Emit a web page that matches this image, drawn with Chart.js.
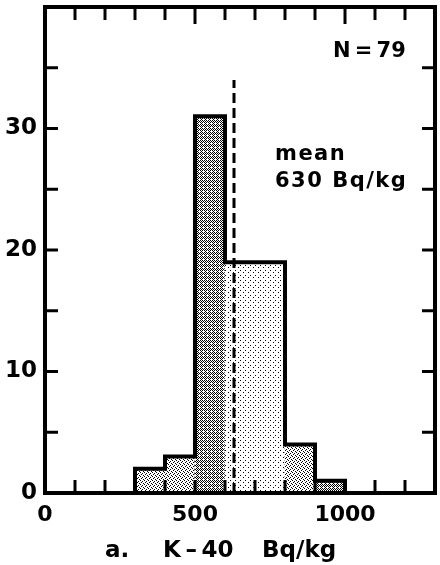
<!DOCTYPE html>
<html>
<head>
<meta charset="utf-8">
<script src="https://cdn.jsdelivr.net/npm/chart.js@4/dist/chart.umd.min.js"></script>
<style>
  html, body { margin: 0; padding: 0; background: #fff; }
  #wrap { width: 440px; height: 565px; }
</style>
</head>
<body>
<div id="wrap"><canvas id="histChart" width="440" height="565"></canvas></div>
<script>
// K-40 histogram (Bq/kg), N = 79
const binEdges = [300, 400, 500, 600, 700, 800, 900, 1000]
const binCounts = [2, 3, 31, 19, 19, 4, 1]
const binShade = ['medium', 'medium', 'dense', 'light', 'light', 'medium', 'dense']
const meanValue = 630
const meanLineTop = 34
const xLabelTicks = [0, 500, 1000]
const yLabelTicks = [0, 10, 20, 30]
const sampleCount = 79

const FONT = 'DejaVu Sans'

const canvas = document.getElementById('histChart')
const ctx = canvas.getContext('2d')

// stipple patterns, roughly like the halftone screens of the print
function makePattern(size, dots) {
  const tile = document.createElement('canvas')
  tile.width = size
  tile.height = size
  const t = tile.getContext('2d')
  t.fillStyle = '#fff'
  t.fillRect(0, 0, size, size)
  t.fillStyle = '#000'
  dots.forEach(([x, y]) => t.fillRect(x, y, 1, 1))
  return ctx.createPattern(tile, 'repeat')
}

const patterns = {
  dense: makePattern(4, [[0, 0], [2, 0], [1, 1], [3, 1], [0, 2], [2, 2], [1, 3]]),
  medium: makePattern(4, [[0, 0], [2, 1], [1, 2], [3, 3]]),
  light: makePattern(5, [[0, 0], [3, 2]]),
}

const barData = binCounts.map((c, i) => ({ x: (binEdges[i] + binEdges[i + 1]) / 2, y: c }))
const outlineData = [{ x: binEdges[0], y: 0 }]
  .concat(binCounts.map((c, i) => ({ x: binEdges[i], y: c })))
  .concat([{ x: binEdges[binEdges.length - 1], y: 0 }])

const framePlugin = {
  id: 'frame',
  afterDatasetsDraw(chart) {
    const c = chart.ctx
    const area = chart.chartArea
    const xs = chart.scales.x
    const ys = chart.scales.y
    c.save()
    c.strokeStyle = '#000'
    c.lineCap = 'butt'

    // inward tick marks
    c.lineWidth = 3
    c.beginPath()
    for (let v = 100; v < 1300; v += 100) {
      const px = xs.getPixelForValue(v)
      const len = v % 500 === 0 ? 17 : 13
      c.moveTo(px, area.top)
      c.lineTo(px, area.top + len)
      c.moveTo(px, area.bottom)
      c.lineTo(px, area.bottom - 13)
    }
    for (let v = 5; v < 40; v += 5) {
      const py = ys.getPixelForValue(v)
      c.moveTo(area.left, py)
      c.lineTo(area.left + 13, py)
      c.moveTo(area.right, py)
      c.lineTo(area.right - 13, py)
    }
    c.stroke()

    // frame
    c.lineWidth = 4
    c.lineJoin = 'miter'
    c.strokeRect(area.left, area.top, area.right - area.left, area.bottom - area.top)

    // annotations
    c.fillStyle = '#000'
    c.textBaseline = 'alphabetic'
    c.textAlign = 'left'
    c.font = 'bold 21px "' + FONT + '"'
    c.letterSpacing = '0px'
    c.fillText('N\u2009=\u2009' + sampleCount, 333, 57)
    c.letterSpacing = '1.5px'
    c.fillText('mean', 275, 160)
    c.fillText(meanValue + ' Bq/kg', 275, 187)

    // axis caption
    c.letterSpacing = '0px'
    c.font = 'bold 23px "' + FONT + '"'
    c.fillText('a.', 105, 557)
    c.fillText('K\u2009\u2013\u200940', 163, 557)
    c.fillText('Bq/kg', 262, 557)
    c.restore()
  },
}

new Chart(canvas, {
  data: {
    datasets: [
      {
        type: 'line',
        data: outlineData,
        stepped: 'before',
        borderColor: '#000',
        borderWidth: 4,
        borderJoinStyle: 'miter',
        pointRadius: 0,
        fill: false,
        order: 0,
      },
      {
        type: 'line',
        data: [{ x: meanValue, y: 0 }, { x: meanValue, y: meanLineTop }],
        borderColor: '#000',
        borderWidth: 3,
        borderDash: [10, 5],
        pointRadius: 0,
        fill: false,
        order: 1,
      },
      {
        type: 'bar',
        data: barData,
        backgroundColor: binShade.map((s) => patterns[s]),
        borderWidth: 0,
        barPercentage: 1,
        categoryPercentage: 1,
        order: 2,
      },
    ],
  },
  options: {
    responsive: false,
    animation: false,
    layout: { padding: { left: 0, right: 5, top: 7, bottom: 0 } },
    plugins: {
      legend: { display: false },
      tooltip: { enabled: false },
    },
    scales: {
      x: {
        type: 'linear',
        min: 0,
        max: 1300,
        offset: false,
        grid: { display: false, drawTicks: false },
        border: { display: false },
        afterFit: (s) => {
          s.height = 72
          s.paddingLeft = 0
          s.paddingRight = 0
        },
        afterBuildTicks: (s) => { s.ticks = xLabelTicks.map((v) => ({ value: v })) },
        ticks: {
          padding: 9,
          maxRotation: 0,
          autoSkip: false,
          color: '#000',
          font: { family: FONT, weight: 'bold', size: 22 },
          callback: (v) => String(v),
        },
      },
      y: {
        type: 'linear',
        min: 0,
        max: 40,
        grid: { display: false, drawTicks: false },
        border: { display: false },
        afterFit: (s) => {
          s.width = 45
          s.paddingTop = 0
          s.paddingBottom = 0
        },
        afterBuildTicks: (s) => { s.ticks = yLabelTicks.map((v) => ({ value: v })) },
        ticks: {
          padding: 8,
          autoSkip: false,
          color: '#000',
          font: { family: FONT, weight: 'bold', size: 23 },
          callback: (v) => String(v),
        },
      },
    },
  },
  plugins: [framePlugin],
})
</script>
</body>
</html>
